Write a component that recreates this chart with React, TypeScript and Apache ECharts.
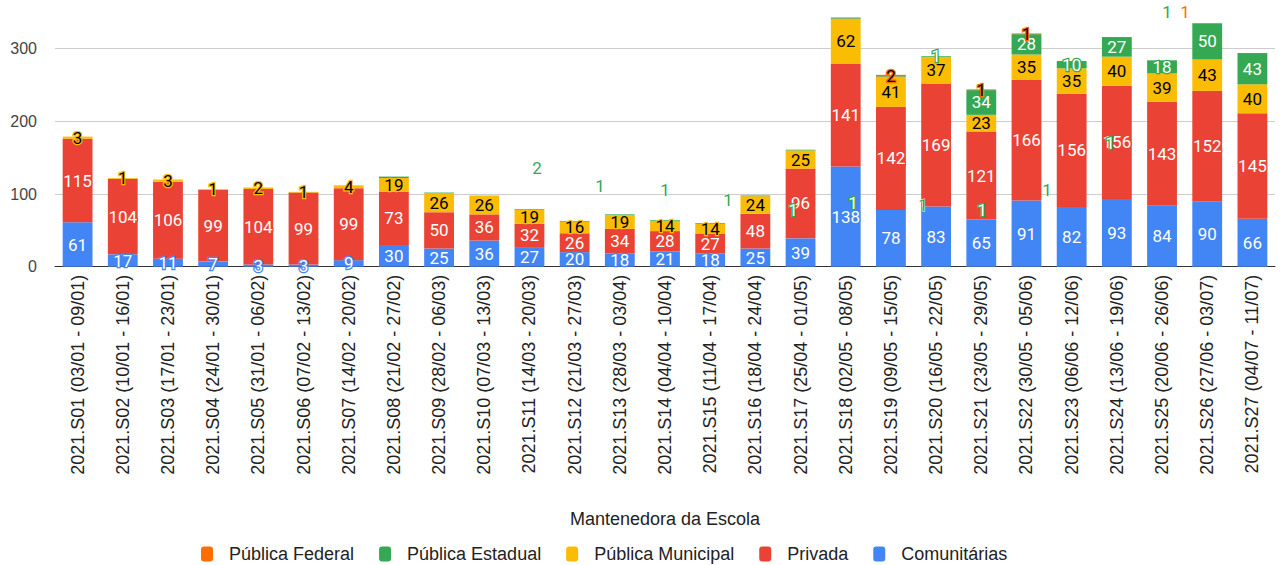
import React, { useEffect, useRef } from "react";
import * as echarts from "echarts";

const categories = [
  "2021.S01 (03/01 - 09/01)", "2021.S02 (10/01 - 16/01)", "2021.S03 (17/01 - 23/01)",
  "2021.S04 (24/01 - 30/01)", "2021.S05 (31/01 - 06/02)", "2021.S06 (07/02 - 13/02)",
  "2021.S07 (14/02 - 20/02)", "2021.S08 (21/02 - 27/02)", "2021.S09 (28/02 - 06/03)",
  "2021.S10 (07/03 - 13/03)", "2021.S11 (14/03 - 20/03)", "2021.S12 (21/03 - 27/03)",
  "2021.S13 (28/03 - 03/04)", "2021.S14 (04/04 - 10/04)", "2021.S15 (11/04 - 17/04)",
  "2021.S16 (18/04 - 24/04)", "2021.S17 (25/04 - 01/05)", "2021.S18 (02/05 - 08/05)",
  "2021.S19 (09/05 - 15/05)", "2021.S20 (16/05 - 22/05)", "2021.S21 (23/05 - 29/05)",
  "2021.S22 (30/05 - 05/06)", "2021.S23 (06/06 - 12/06)", "2021.S24 (13/06 - 19/06)",
  "2021.S25 (20/06 - 26/06)", "2021.S26 (27/06 - 03/07)", "2021.S27 (04/07 - 11/07)",
];

const comunitarias = [61, 17, 11, 7, 3, 3, 9, 30, 25, 36, 27, 20, 18, 21, 18, 25, 39, 138, 78, 83, 65, 91, 82, 93, 84, 90, 66];
const privada = [115, 104, 106, 99, 104, 99, 99, 73, 50, 36, 32, 26, 34, 28, 27, 48, 96, 141, 142, 169, 121, 166, 156, 156, 143, 152, 145];
const municipal = [3, 1, 3, 1, 2, 1, 4, 19, 26, 26, 19, 16, 19, 14, 14, 24, 25, 62, 41, 37, 23, 35, 35, 40, 39, 43, 40];
const estadual = [0, 0, 0, 0, 0, 0, 0, 2, 1, 0, 1, 1, 1, 1, 1, 1, 1, 1, 1, 1, 34, 28, 10, 27, 18, 50, 43];
const federal = [0, 0, 0, 0, 0, 0, 0, 0, 0, 0, 0, 0, 0, 0, 0, 0, 0, 1, 2, 0, 1, 1, 0, 0, 0, 0, 0];

const seriesNames = ["Comunitárias", "Privada", "Pública Municipal", "Pública Estadual", "Pública Federal"];
const legendOrder = ["Pública Federal", "Pública Estadual", "Pública Municipal", "Privada", "Comunitárias"];

const BLUE = "#4285F4";
const RED = "#EA4335";
const YELLOW = "#FBBC04";
const GREEN = "#34A853";
const ORANGE = "#FF6D01";

const AXIS_FONT = "'Liberation Sans', Arial, sans-serif";
const LABEL_FONT = "Roboto, 'Liberation Sans', sans-serif";

// label placement of small segments that the original moved away (x, y, drawn over a bar)
const GREEN_FLOAT: Record<number, [number, number, boolean]> = {
  7: [537, 168, false],
  8: [600, 186, false],
  10: [665, 190, false],
  11: [728, 200, false],
  12: [793, 210, true],
  13: [853, 203, true],
  14: [923, 205, false],
  15: [982, 210, true],
  16: [1047, 190, false],
  17: [1110, 143, true],
  18: [1167, 12, false],
};
const ORANGE_FLOAT: Record<number, [number, number, boolean]> = {
  17: [1185, 12, false],
};

function makeSeries(
  name: string,
  values: number[],
  color: string,
  textColor: string,
  floats?: Record<number, [number, number, boolean]>
) {
  return {
    name,
    type: "bar",
    stack: "total",
    clip: false,
    barCategoryGap: "34%",
    itemStyle: { color },
    data: values.map((v, i) => {
      const f = floats ? floats[i] : undefined;
      if (!f) return v;
      return {
        value: v,
        label: {
          color: f[2] ? "#ffffff" : color,
          textBorderColor: f[2] ? color : "#ffffff",
          textBorderWidth: f[2] ? 2.5 : 1,
        },
      };
    }),
    label: {
      show: true,
      position: "inside",
      fontFamily: LABEL_FONT,
      fontSize: 17,
      color: textColor,
      textBorderColor: color,
      textBorderWidth: 2.5,
      formatter: (p: any) => (p.value ? String(p.value) : ""),
    },
    labelLayout: floats
      ? (p: any) => {
          const f = floats[p.dataIndex];
          return f ? { x: f[0], y: f[1], align: "center", verticalAlign: "middle" } : {};
        }
      : undefined,
  };
}

export default function App() {
  const ref = useRef<HTMLDivElement>(null);
  useEffect(() => {
    if (!ref.current) return;
    const chart = echarts.init(ref.current, undefined, { renderer: "svg" });
    chart.setOption({
      animation: false,
      backgroundColor: "#ffffff",
      grid: { left: 55, right: 6, top: 48.7, height: 218 },
      legend: {
        data: legendOrder,
        left: 196,
        top: 540,
        icon: "roundRect",
        itemWidth: 12,
        itemHeight: 15,
        itemGap: 25,
        textStyle: { fontFamily: AXIS_FONT, fontSize: 18, color: "#222", padding: [0, 0, 0, 11] },
      },
      xAxis: {
        type: "category",
        data: categories,
        name: "Mantenedora da Escola",
        nameLocation: "middle",
        nameGap: 243,
        nameTextStyle: { fontFamily: AXIS_FONT, fontSize: 18, color: "#222" },
        axisLine: { lineStyle: { color: "#333", width: 1 } },
        axisTick: { show: false },
        axisLabel: {
          interval: 0,
          rotate: 90,
          margin: 8,
          fontFamily: AXIS_FONT,
          fontSize: 18,
          color: "#222",
        },
      },
      yAxis: {
        type: "value",
        min: 0,
        max: 300,
        interval: 100,
        axisLine: { show: false },
        axisTick: { show: false },
        axisLabel: { fontFamily: AXIS_FONT, fontSize: 16, color: "#444", margin: 18 },
        splitLine: { lineStyle: { color: "#cccccc", width: 1 } },
      },
      series: [
        makeSeries(seriesNames[0], comunitarias, BLUE, "#ffffff"),
        makeSeries(seriesNames[1], privada, RED, "#ffffff"),
        makeSeries(seriesNames[2], municipal, YELLOW, "#000000"),
        makeSeries(seriesNames[3], estadual, GREEN, "#ffffff", GREEN_FLOAT),
        makeSeries(seriesNames[4], federal, ORANGE, "#000000", ORANGE_FLOAT),
      ],
    });
    return () => chart.dispose();
  }, []);
  return (
    <div
      ref={ref}
      style={{ position: "fixed", left: 0, top: 0, width: 1281, height: 565, background: "#fff" }}
    />
  );
}
